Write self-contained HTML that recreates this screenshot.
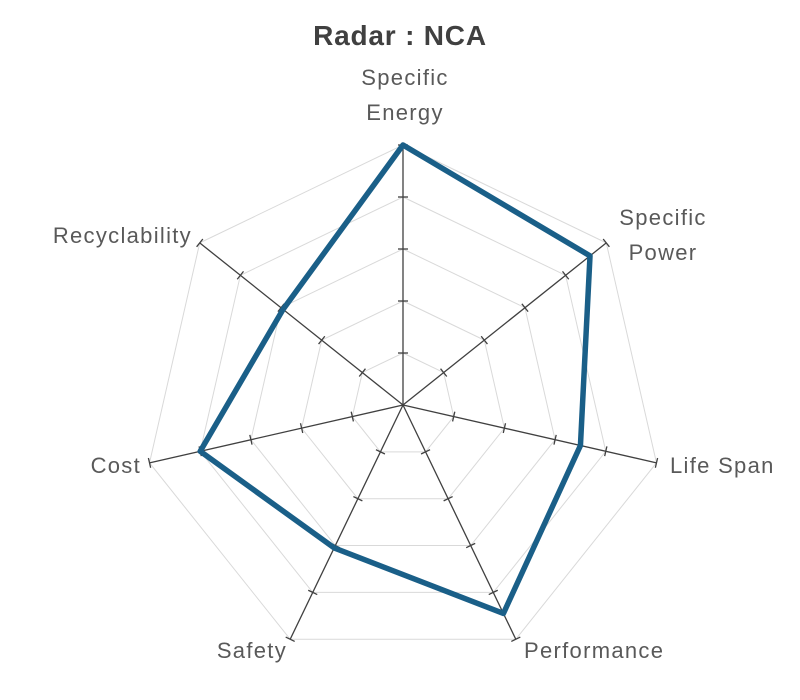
<!DOCTYPE html>
<html><head><meta charset="utf-8"><style>
html,body{margin:0;padding:0;background:#fff;}
svg{display:block;font-family:"Liberation Sans",sans-serif;}
</style></head><body>
<svg id="s" width="800" height="700" xmlns="http://www.w3.org/2000/svg">
<text x="400" y="45" text-anchor="middle" font-size="28" font-weight="bold" fill="#404040" letter-spacing="0.8">Radar : NCA</text>
<g font-size="22" fill="#595959" letter-spacing="1.3">
<text x="405" y="85" text-anchor="middle">Specific</text>
<text x="405" y="120" text-anchor="middle">Energy</text>
<text x="663" y="225" text-anchor="middle">Specific</text>
<text x="663" y="260" text-anchor="middle">Power</text>
<text x="670" y="473">Life Span</text>
<text x="524" y="658">Performance</text>
<text x="287" y="658" text-anchor="end">Safety</text>
<text x="141" y="473" text-anchor="end">Cost</text>
<text x="192" y="243" text-anchor="end">Recyclability</text>
</g>
<g id="g"></g>
</svg>
<script>
var cx=403,cy=405,R=260,n=7,out='';
function pt(i,r){var a=(-90+i*360/n)*Math.PI/180;return [cx+r*Math.cos(a),cy+r*Math.sin(a)];}
for(var l=1;l<=5;l++){var p=[];for(var i=0;i<n;i++)p.push(pt(i,R*l/5).join(','));
out+='<polygon points="'+p.join(' ')+'" fill="none" stroke="#d9d9d9" stroke-width="1"/>';}
for(var i=0;i<n;i++){var e=pt(i,R);out+='<line x1="'+cx+'" y1="'+cy+'" x2="'+e[0]+'" y2="'+e[1]+'" stroke="#404040" stroke-width="1.3"/>';
var a=(-90+i*360/n)*Math.PI/180,px=-Math.sin(a)*5,py=Math.cos(a)*5;
for(var l=1;l<=5;l++){var q=pt(i,R*l/5);out+='<line x1="'+(q[0]-px)+'" y1="'+(q[1]-py)+'" x2="'+(q[0]+px)+'" y2="'+(q[1]+py)+'" stroke="#404040" stroke-width="1.3"/>';}}
var d=[5,4.6,3.5,4.45,3.05,4,2.95],p=[];
for(var i=0;i<n;i++)p.push(pt(i,R*d[i]/5).join(','));
out+='<polygon points="'+p.join(' ')+'" fill="none" stroke="#1a5f88" stroke-width="5.5" stroke-linejoin="round"/>';
document.getElementById('g').innerHTML=out;
</script>
</body></html>
